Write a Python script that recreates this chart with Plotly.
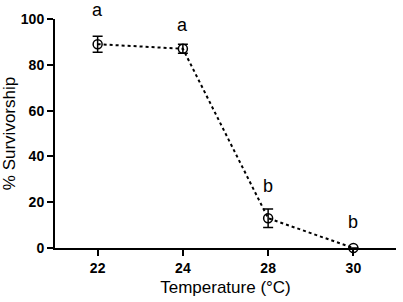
import plotly.graph_objects as go

temps = ["22", "24", "28", "30"]
survival = [89, 87, 13, 0]
err = [3.5, 2, 4, 0]
letters = ["a", "a", "b", "b"]
letter_y = [104, 97.5, 27, 11.5]

fig = go.Figure()
fig.add_trace(go.Scatter(
    x=temps, y=survival, mode="lines+markers",
    line=dict(color="black", width=2, dash="dot"),
    marker=dict(symbol="circle-open", size=9, color="black", line=dict(width=1.5)),
    error_y=dict(type="data", array=err, visible=True, color="black", thickness=1.5, width=5),
    showlegend=False, cliponaxis=False,
))
for i, (ly, lt) in enumerate(zip(letter_y, letters)):
    fig.add_annotation(x=i, y=ly / 100, text=lt, showarrow=False, xref="x", yref="paper",
                       yanchor="middle", xanchor="center",
                       font=dict(family="Liberation Sans, Arial", size=18, color="black"))

fig.update_layout(
    width=403, height=302,
    margin=dict(l=55, r=7, t=19, b=54, autoexpand=False),
    plot_bgcolor="white", paper_bgcolor="white",
    font=dict(family="Liberation Sans, Arial", color="black"),
)
fig.update_xaxes(
    type="category", range=[-0.5, 3.5], showgrid=False, zeroline=False, automargin=False,
    showline=True, linecolor="black", linewidth=2,
    ticks="outside", ticklen=6, tickwidth=1.5, tickcolor="black",
    tickfont=dict(family="Liberation Sans, Arial", size=14, color="black", weight="bold"),
    title=dict(text="Temperature (°C)", font=dict(size=17, color="black"), standoff=6),
)
fig.update_yaxes(
    range=[0, 100], tickvals=[0, 20, 40, 60, 80, 100], showgrid=False, zeroline=False, automargin=False,
    showline=True, linecolor="black", linewidth=2,
    ticks="outside", ticklen=6, tickwidth=1.5, tickcolor="black",
    tickfont=dict(family="Liberation Sans, Arial", size=14, color="black", weight="bold"),
    title=dict(text="% Survivorship", font=dict(size=17, color="black"), standoff=3),
)
fig.write_html("out.html", config={"displayModeBar": False},
               post_script="document.body.style.margin='0';document.body.style.overflow='hidden';")
